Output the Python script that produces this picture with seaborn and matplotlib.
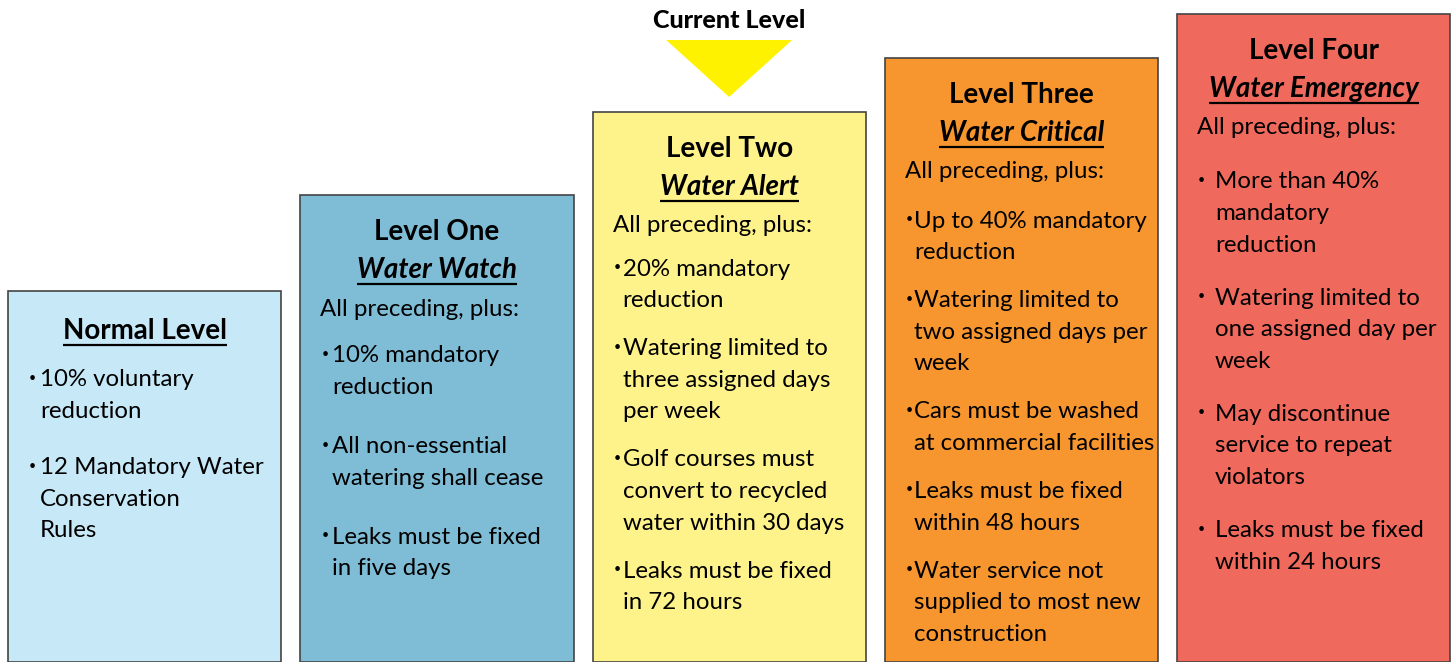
import matplotlib
matplotlib.use("Agg")
import matplotlib.pyplot as plt
import seaborn as sns
import pandas as pd

# Level data
levels = ["Normal Level", "Level One", "Level Two", "Level Three", "Level Four"]
subtitles = ["", "Water Watch", "Water Alert", "Water Critical", "Water Emergency"]
heights = [371, 467, 550, 604, 648]
colors = ["#c6e8f7", "#7fbdd6", "#fef38a", "#f7962f", "#f0695d"]
preamble = [False, True, True, True, True]
bullets = [
    [["10% voluntary", "reduction"],
     ["12 Mandatory Water", "Conservation", "Rules"]],
    [["10% mandatory", "reduction"],
     ["All non-essential", "watering shall cease"],
     ["Leaks must be fixed", "in five days"]],
    [["20% mandatory", "reduction"],
     ["Watering limited to", "three assigned days", "per week"],
     ["Golf courses must", "convert to recycled", "water within 30 days"],
     ["Leaks must be fixed", "in 72 hours"]],
    [["Up to 40% mandatory", "reduction"],
     ["Watering limited to", "two assigned days per", "week"],
     ["Cars must be washed", "at commercial facilities"],
     ["Leaks must be fixed", "within 48 hours"],
     ["Water service not", "supplied to most new", "construction"]],
    [["More than 40%", "mandatory", "reduction"],
     ["Watering limited to", "one assigned day per", "week"],
     ["May discontinue", "service to repeat", "violators"],
     ["Leaks must be fixed", "within 24 hours"]],
]
current = 2

# layout (pixels below bar top / between groups)
first_bullet = [89, 161, 157, 163, 168]
group_gap = [56, 59, 48, 48, 53]
text_indent = [32, 32, 30, 29, 38]

df = pd.DataFrame({"level": levels, "height": heights})

sns.set_style("white")
plt.rcParams["font.family"] = ["Lato", "DejaVu Sans"]
plt.rcParams["text.color"] = "black"

fig = plt.figure(figsize=(14.51, 6.62), dpi=100)
ax = fig.add_axes([0, 0, 1, 1])
sns.barplot(data=df, x="level", y="height", hue="level", palette=colors,
            saturation=1, width=0.935, edgecolor="#444444", linewidth=1.2,
            legend=False, ax=ax)
ax.set_xlim(-0.495, 4.47)
ax.set_ylim(0, 662)
ax.axis("off")

px = 1 / 292.25  # one pixel in x data units
body_fs = 17.3
title_fs = 20
line_h = 31.6

fig.canvas.draw()
renderer = fig.canvas.get_renderer()


def underline(t):
    fig.canvas.draw()
    bb = t.get_window_extent(renderer=renderer)
    inv = ax.transData.inverted()
    (x0, y0), (x1, _) = inv.transform([(bb.x0, bb.y0), (bb.x1, bb.y0)])
    ax.plot([x0, x1], [y0 - 1, y0 - 1], color="black", lw=1.6,
            solid_capstyle="butt")


for i, (lvl, sub, h) in enumerate(zip(levels, subtitles, heights)):
    top = h
    left = i - 0.935 / 2
    if sub:
        ax.text(i, top - 37, lvl, ha="center", va="center",
                fontsize=title_fs, fontweight="bold")
        t = ax.text(i, top - 75, sub, ha="center", va="center",
                    fontsize=title_fs, fontweight="bold", style="italic")
        underline(t)
        ax.text(left + 20 * px, top - 114, "All preceding, plus:", ha="left",
                va="center", fontsize=body_fs)
    else:
        t = ax.text(i, top - 40, lvl, ha="center", va="center",
                    fontsize=title_fs, fontweight="bold")
        underline(t)
    y = top - first_bullet[i]
    for group in bullets[i]:
        ax.text(left + 21 * px, y + 2, "•", ha="left", va="center",
                fontsize=9)
        for j, line in enumerate(group):
            ax.text(left + text_indent[i] * px, y - j * line_h, line,
                    ha="left", va="center", fontsize=body_fs)
        y -= (len(group) - 1) * line_h + group_gap[i]

# current level marker
top = heights[current]
hw = 63 * px
ax.fill([current - hw, current + hw, current], [top + 72, top + 72, top + 15],
        color="#fff200", lw=0)
ax.text(current, top + 92, "Current Level", ha="center", va="center",
        fontsize=18, fontweight=900)

fig.savefig("out.png", dpi=100)
